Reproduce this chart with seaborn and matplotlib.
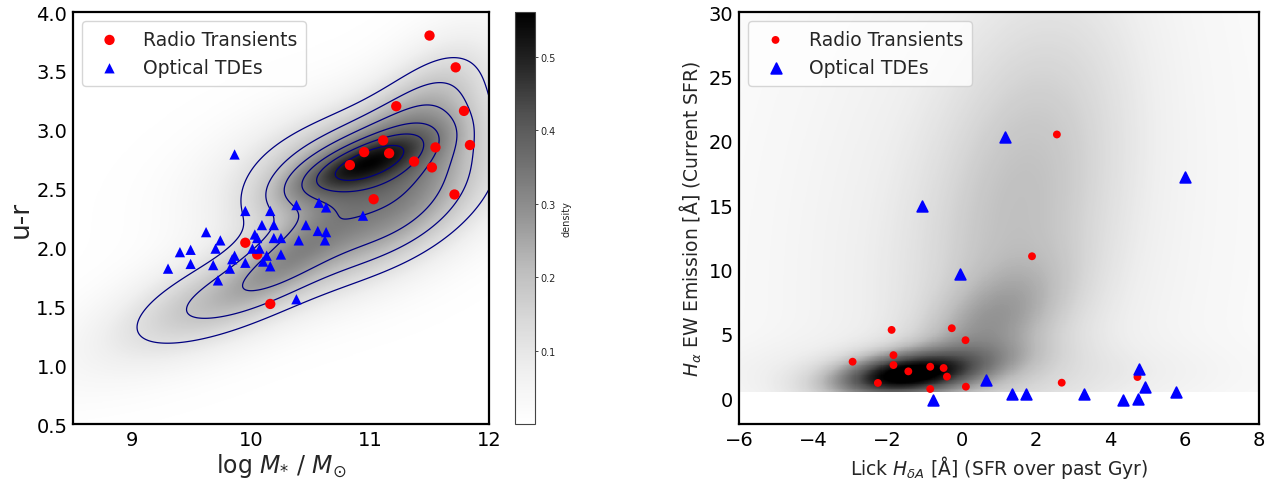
import numpy as np
import pandas as pd
import matplotlib
matplotlib.use("Agg")
import matplotlib.pyplot as plt
import seaborn as sns
from matplotlib.colors import PowerNorm

# ---------------- data ----------------
# Left panel: stellar mass vs u-r colour
radio_mass = [11.50, 11.72, 11.22, 11.79, 11.84, 11.11, 10.95, 11.16, 10.83,
              11.55, 11.37, 11.52, 11.03, 11.71, 9.95, 10.05, 10.16]
radio_ur = [3.80, 3.53, 3.20, 3.16, 2.87, 2.91, 2.81, 2.80, 2.70,
            2.85, 2.73, 2.68, 2.41, 2.45, 2.04, 1.94, 1.52]
tde_mass = [9.86, 10.94, 9.95, 10.16, 10.38, 10.57, 10.63, 10.09, 10.19, 10.46,
            9.62, 9.74, 10.03, 10.05, 10.19, 10.25, 10.40, 10.56, 10.63, 10.62,
            9.40, 9.49, 9.70, 10.01, 10.07, 9.86, 9.84, 10.13, 10.25, 9.30,
            9.49, 9.68, 9.82, 9.95, 10.10, 10.16, 9.72, 10.38]
tde_ur = [2.79, 2.27, 2.31, 2.31, 2.36, 2.38, 2.34, 2.19, 2.19, 2.19,
          2.13, 2.06, 2.11, 2.08, 2.08, 2.08, 2.06, 2.14, 2.13, 2.06,
          1.96, 1.98, 1.99, 1.99, 1.99, 1.93, 1.90, 1.93, 1.94, 1.82,
          1.86, 1.85, 1.82, 1.87, 1.88, 1.84, 1.72, 1.56]

# Right panel: Lick HdA vs Halpha EW
radio_hda = [1.89, -1.89, -0.27, 0.10, -2.94, -1.84, -1.84, -1.44, -0.85, -0.49,
             -0.40, -2.26, -0.85, 0.11, 2.69, 4.73, 2.56]
radio_ha = [11.03, 5.31, 5.44, 4.51, 2.84, 3.35, 2.58, 2.09, 2.45, 2.35,
            1.68, 1.19, 0.72, 0.90, 1.21, 1.65, 20.49]
tde_hda = [1.15, -1.08, 6.02, -0.06, 0.64, -0.78, 1.36, 1.73, 3.28, 4.33,
           4.75, 4.78, 4.93, 5.78]
tde_ha = [20.26, 14.97, 17.20, 9.69, 1.44, -0.10, 0.33, 0.33, 0.33, -0.10,
          -0.05, 2.27, 0.85, 0.46]

# Background galaxy population, described as Gaussian components read off the shading
# (red-sequence core, red-sequence halo, massive red, green valley, blue band,
#  high-mass lower shoulder, low-mass blue cloud)
pop_l_mx = [10.91, 10.91, 11.55, 10.35, 10.30, 11.30, 9.50]
pop_l_my = [2.70, 2.71, 3.30, 1.95, 1.80, 2.30, 1.50]
pop_l_sx = [0.40, 0.72, 0.40, 0.35, 1.00, 0.50, 0.50]
pop_l_sy = [0.19, 0.38, 0.40, 0.28, 0.50, 0.40, 0.30]
pop_l_rho = [0.72, 0.40, 0.50, 0.75, 0.80, 0.40, 0.50]
pop_l_h = [0.20, 0.28, 0.14, 0.09, 0.18, 0.10, 0.06]
contour_levels = [0.12, 0.19, 0.26, 0.34, 0.41, 0.49]

pop_r_mx = [-1.5, -1.0, 0.7, 1.6, 0.8, 0.0]
pop_r_my = [1.75, 2.3, 5.5, 15.0, 12.0, 2.0]
pop_r_sx = [1.0, 1.5, 1.2, 1.6, 3.3, 3.5]
pop_r_sy = [0.9, 1.2, 3.0, 9.0, 16.0, 1.5]
pop_r_rho = [0.3, 0.45, 0.55, 0.35, 0.15, 0.0]
pop_r_h = [1.0, 0.35, 0.2, 0.12, 0.03, 0.035]
ha_floor = 0.45


def mixture(X, Y, mx, my, sx, sy, rho, h):
    Z = np.zeros_like(X)
    for a, b, c, d, r, k in zip(mx, my, sx, sy, rho, h):
        zx = (X - a) / c
        zy = (Y - b) / d
        q = (zx ** 2 - 2 * r * zx * zy + zy ** 2) / (1 - r ** 2)
        Z += k * np.exp(-0.5 * q)
    return Z


sns.set_style("white")
plt.rcParams["font.family"] = ["DejaVu Sans"]
plt.rcParams["mathtext.fontset"] = "dejavusans"

fig = plt.figure(figsize=(12.71, 4.81), dpi=100)
axL = fig.add_axes([0.0574, 0.1164, 0.3273, 0.8565])
cax = fig.add_axes([0.4052, 0.1164, 0.0157, 0.8565])
axR = fig.add_axes([0.5814, 0.1164, 0.4091, 0.8565])

# ---------------- left panel ----------------
gx = np.linspace(8.5, 12.0, 400)
gy = np.linspace(0.5, 4.0, 400)
GX, GY = np.meshgrid(gx, gy)
DL = mixture(GX, GY, pop_l_mx, pop_l_my, pop_l_sx, pop_l_sy, pop_l_rho, pop_l_h)
im = axL.imshow(DL, extent=[8.5, 12.0, 0.5, 4.0], origin="lower", aspect="auto",
                cmap="Greys", vmin=0.0, vmax=0.561, interpolation="bilinear", zorder=0)
axL.contour(GX, GY, DL, levels=contour_levels, colors="navy", linewidths=0.9, zorder=1)

sns.scatterplot(x=radio_mass, y=radio_ur, ax=axL, color="red", marker="o", s=55,
                edgecolor="none", label="Radio Transients", zorder=3)
sns.scatterplot(x=tde_mass, y=tde_ur, ax=axL, color="blue", marker="^", s=55,
                edgecolor="none", label="Optical TDEs", zorder=3)
axL.set_xlim(8.5, 12.0)
axL.set_ylim(0.5, 4.0)
axL.set_xticks([9, 10, 11, 12])
axL.set_yticks(np.arange(0.5, 4.01, 0.5))
axL.set_xlabel(r"log $M_{*}$ / $M_{\odot}$", fontsize=17, labelpad=2)
axL.set_ylabel("u-r", fontsize=19, labelpad=2)
axL.legend(loc="upper left", fontsize=13.5, frameon=True, edgecolor="#cccccc",
           handletextpad=0.8, borderpad=0.45, labelspacing=0.5)

cb = fig.colorbar(im, cax=cax)
cb.set_ticks([0.1, 0.2, 0.3, 0.4, 0.5])
cb.ax.tick_params(labelsize=7, length=2, width=0.6, direction="out", pad=2)
cb.set_label("density", fontsize=7, labelpad=4)
cb.outline.set_linewidth(0.8)
cb.outline.set_edgecolor("#444444")

# ---------------- right panel ----------------
hx = np.linspace(-6, 8, 500)
hy = np.linspace(-2, 30, 500)
HX, HY = np.meshgrid(hx, hy)
DR = mixture(HX, HY, pop_r_mx, pop_r_my, pop_r_sx, pop_r_sy, pop_r_rho, pop_r_h)
DR = np.where(HY < ha_floor, np.nan, DR)
cmapR = matplotlib.colormaps["Greys"].copy()
cmapR.set_bad("white")
axR.imshow(DR, extent=[-6, 8, -2, 30], origin="lower", aspect="auto", cmap=cmapR,
           norm=PowerNorm(gamma=0.5, vmin=0.0, vmax=1.15), interpolation="nearest",
           zorder=0)

sns.scatterplot(x=radio_hda, y=radio_ha, ax=axR, color="red", marker="o", s=32,
                edgecolor="none", label="Radio Transients", zorder=3)
sns.scatterplot(x=tde_hda, y=tde_ha, ax=axR, color="blue", marker="^", s=60,
                edgecolor="blue", linewidth=1.2, label="Optical TDEs", zorder=3)
axR.set_xlim(-6, 8)
axR.set_ylim(-2, 30)
axR.set_xticks(np.arange(-6, 8.1, 2))
axR.set_yticks(np.arange(0, 30.1, 5))
axR.set_xlabel(r"Lick $H_{\delta A}$ [Å] (SFR over past Gyr)", fontsize=13.5, labelpad=3)
axR.set_ylabel(r"$H_{\alpha}$ EW Emission [Å] (Current SFR)", fontsize=13.5, labelpad=3)
axR.legend(loc="upper left", fontsize=13.5, frameon=True, edgecolor="#cccccc",
           handletextpad=0.8, borderpad=0.45, labelspacing=0.5)

for ax in (axL, axR):
    ax.tick_params(direction="in", length=3, width=0.8, color="#888888",
                   labelsize=14, labelcolor="black", pad=4)
    for s in ax.spines.values():
        s.set_linewidth(1.6)
        s.set_color("black")

fig.savefig("out.png", dpi=100)
